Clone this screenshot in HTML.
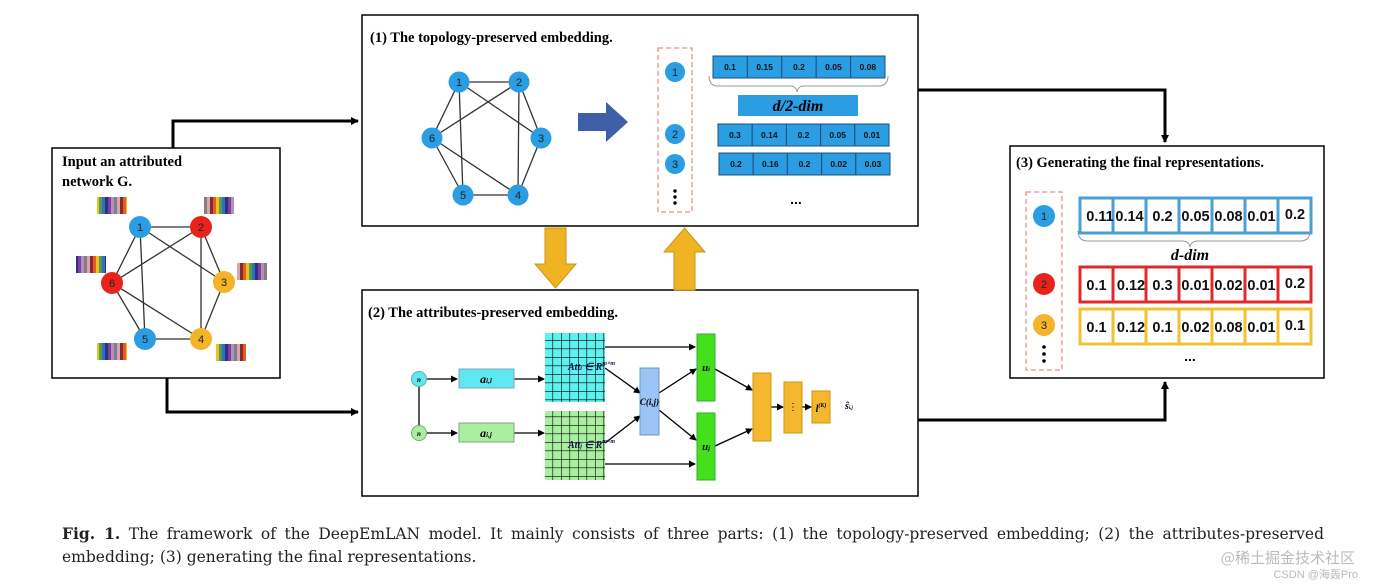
<!DOCTYPE html>
<html><head><meta charset="utf-8"><style>
body{margin:0;background:#fff;width:1374px;height:588px;overflow:hidden}
svg{display:block}
.t{font-family:"Liberation Serif",serif;font-weight:bold}
.s{font-family:"Liberation Sans",sans-serif}
.cap{position:absolute;left:62px;top:522px;width:1262px;font-family:"DejaVu Serif","Liberation Serif",serif;font-size:15.5px;line-height:23px;color:#222;text-align:justify;text-align-last:left}
</style></head><body>
<svg width="1374" height="588" viewBox="0 0 1374 588" xmlns="http://www.w3.org/2000/svg">
<defs>
<marker id="ab" markerWidth="8" markerHeight="8" refX="7" refY="4" orient="auto" markerUnits="userSpaceOnUse"><path d="M0,0 L8,4 L0,8z" fill="#000"/></marker>
<marker id="as" markerWidth="7" markerHeight="7" refX="6" refY="3.5" orient="auto" markerUnits="userSpaceOnUse"><path d="M0,0 L7,3.5 L0,7z" fill="#000"/></marker>
<pattern id="bars" width="30" height="17" patternUnits="userSpaceOnUse">
<rect x="0" width="3" height="17" fill="#7a3030"/><rect x="3" width="3" height="17" fill="#e85a20"/><rect x="6" width="3" height="17" fill="#f0c020"/><rect x="9" width="3" height="17" fill="#50a050"/><rect x="12" width="3" height="17" fill="#3070c0"/><rect x="15" width="3" height="17" fill="#303080"/><rect x="18" width="3" height="17" fill="#8040a0"/><rect x="21" width="3" height="17" fill="#b090c0"/><rect x="24" width="3" height="17" fill="#808080"/><rect x="27" width="3" height="17" fill="#e0a0b0"/>
</pattern>
<pattern id="g" width="8.5" height="8.5" patternUnits="userSpaceOnUse"><path d="M0,0 H8.5 M0,0 V8.5" stroke="#000" stroke-width="1.2" fill="none"/></pattern>
</defs>
<g stroke="#000" stroke-width="3" fill="none">
<path d="M173,148 V121 H358" marker-end="url(#ab)"/>
<path d="M167,378 V412 H358" marker-end="url(#ab)"/>
<path d="M918,90 H1165 V142" marker-end="url(#ab)"/>
<path d="M918,420 H1165 V382" marker-end="url(#ab)"/>
</g>
<g fill="none" stroke="#000" stroke-width="1.5">
<rect x="52" y="148" width="228" height="230"/>
<rect x="362" y="15" width="556" height="211"/>
<rect x="362" y="290" width="556" height="206"/>
<rect x="1010" y="146" width="314" height="232"/>
</g>
<path d="M545,228 H566 V264 H576 L555.5,288 L535,264 H545z" fill="#f0b323" stroke="#c99510"/>
<path d="M674,290 H695 V252 H705 L684.5,228 L664,252 H674z" fill="#f0b323" stroke="#c99510"/>
<text x="62" y="166" class="t" font-size="14.5">Input an attributed</text>
<text x="62" y="186" class="t" font-size="14.5">network G.</text>
<g stroke="#333" stroke-width="1.3">
<line x1="140" y1="227" x2="201" y2="227"/><line x1="140" y1="227" x2="112" y2="283"/><line x1="140" y1="227" x2="145" y2="339"/><line x1="140" y1="227" x2="224" y2="282"/>
<line x1="201" y1="227" x2="112" y2="283"/><line x1="201" y1="227" x2="201" y2="339"/><line x1="201" y1="227" x2="224" y2="282"/>
<line x1="224" y1="282" x2="201" y2="339"/><line x1="201" y1="339" x2="145" y2="339"/><line x1="145" y1="339" x2="112" y2="283"/><line x1="112" y1="283" x2="201" y2="339"/>
</g>
<g font-size="11" text-anchor="middle" class="s" fill="#222">
<circle cx="140" cy="227" r="11" fill="#2a9de3"/><text x="140" y="231">1</text>
<circle cx="201" cy="227" r="11" fill="#e8231c"/><text x="201" y="231">2</text>
<circle cx="224" cy="282" r="11" fill="#f5b32a"/><text x="224" y="286">3</text>
<circle cx="201" cy="339" r="11" fill="#f5b32a"/><text x="201" y="343">4</text>
<circle cx="145" cy="339" r="11" fill="#2a9de3"/><text x="145" y="343">5</text>
<circle cx="112" cy="283" r="11" fill="#e8231c"/><text x="112" y="287">6</text>
</g>
<rect x="97" y="197" width="30" height="17" fill="url(#bars)"/>
<rect x="204" y="197" width="30" height="17" fill="url(#bars)"/>
<rect x="76" y="256" width="30" height="17" fill="url(#bars)"/>
<rect x="237" y="263" width="30" height="17" fill="url(#bars)"/>
<rect x="97" y="343" width="30" height="17" fill="url(#bars)"/>
<rect x="216" y="344" width="30" height="17" fill="url(#bars)"/>
<text x="370" y="42" class="t" font-size="14.5">(1) The topology-preserved  embedding.</text>
<g stroke="#333" stroke-width="1.3">
<line x1="459" y1="82" x2="519" y2="82"/><line x1="459" y1="82" x2="432" y2="138"/><line x1="459" y1="82" x2="463" y2="195"/><line x1="459" y1="82" x2="541" y2="138"/>
<line x1="519" y1="82" x2="432" y2="138"/><line x1="519" y1="82" x2="518" y2="195"/><line x1="519" y1="82" x2="541" y2="138"/>
<line x1="541" y1="138" x2="518" y2="195"/><line x1="518" y1="195" x2="463" y2="195"/><line x1="463" y1="195" x2="432" y2="138"/><line x1="432" y1="138" x2="518" y2="195"/>
</g>
<g font-size="11" text-anchor="middle" class="s" fill="#222">
<circle cx="459" cy="82" r="10.5" fill="#2a9de3"/><text x="459" y="86">1</text>
<circle cx="519" cy="82" r="10.5" fill="#2a9de3"/><text x="519" y="86">2</text>
<circle cx="541" cy="138" r="10.5" fill="#2a9de3"/><text x="541" y="142">3</text>
<circle cx="518" cy="195" r="10.5" fill="#2a9de3"/><text x="518" y="199">4</text>
<circle cx="463" cy="195" r="10.5" fill="#2a9de3"/><text x="463" y="199">5</text>
<circle cx="432" cy="138" r="10.5" fill="#2a9de3"/><text x="432" y="142">6</text>
</g>
<path d="M578,113 H606 V102 L628,122 L606,142 V131 H578z" fill="#3f5ea8"/>
<rect x="658" y="48" width="34" height="164" fill="none" stroke="#e07060" stroke-dasharray="5,3"/>
<g font-size="11" text-anchor="middle" class="s" fill="#222">
<circle cx="675" cy="72" r="10" fill="#2a9de3"/><text x="675" y="76">1</text>
<circle cx="675" cy="134" r="10" fill="#2a9de3"/><text x="675" y="138">2</text>
<circle cx="675" cy="164" r="10" fill="#2a9de3"/><text x="675" y="168">3</text>
</g>
<g fill="#000"><circle cx="675" cy="191" r="1.7"/><circle cx="675" cy="197" r="1.7"/><circle cx="675" cy="203" r="1.7"/></g>
<g fill="#2a9de3" stroke="#1d4f7a" stroke-width="1">
<rect x="713" y="56" width="34.4" height="22"/><rect x="747.4" y="56" width="34.4" height="22"/><rect x="781.8" y="56" width="34.4" height="22"/><rect x="816.2" y="56" width="34.4" height="22"/><rect x="850.6" y="56" width="34.4" height="22"/>
<rect x="718" y="124" width="34.2" height="22"/><rect x="752.2" y="124" width="34.2" height="22"/><rect x="786.4" y="124" width="34.2" height="22"/><rect x="820.6" y="124" width="34.2" height="22"/><rect x="854.8" y="124" width="34.2" height="22"/>
<rect x="719" y="153" width="34.2" height="22"/><rect x="753.2" y="153" width="34.2" height="22"/><rect x="787.4" y="153" width="34.2" height="22"/><rect x="821.6" y="153" width="34.2" height="22"/><rect x="855.8" y="153" width="34.2" height="22"/>
</g>
<g font-size="8.5" text-anchor="middle" class="s" font-weight="bold" fill="#111">
<text x="730" y="70">0.1</text><text x="764.6" y="70">0.15</text><text x="799" y="70">0.2</text><text x="833.4" y="70">0.05</text><text x="867.8" y="70">0.08</text>
<text x="735" y="138">0.3</text><text x="769.3" y="138">0.14</text><text x="803.5" y="138">0.2</text><text x="837.7" y="138">0.05</text><text x="871.9" y="138">0.01</text>
<text x="736" y="167">0.2</text><text x="770.3" y="167">0.16</text><text x="804.5" y="167">0.2</text><text x="838.7" y="167">0.02</text><text x="872.9" y="167">0.03</text>
</g>
<path d="M709,76 Q709,86 718,86 H790 Q796,86 797,92 Q798,86 804,86 H878 Q888,86 888,76" fill="none" stroke="#999"/>
<rect x="738" y="95" width="120" height="21" fill="#2a9de3"/>
<text x="798" y="111" text-anchor="middle" class="t" font-style="italic" font-size="16">d/2-dim</text>
<text x="796" y="204" text-anchor="middle" class="s" font-weight="bold" font-size="14">...</text>
<text x="368" y="317" class="t" font-size="14.5">(2) The attributes-preserved embedding.</text>
<g stroke="#000" stroke-width="1.3" fill="none">
<line x1="419" y1="386" x2="419" y2="426"/>
<line x1="427" y1="379" x2="457" y2="379" marker-end="url(#as)"/>
<line x1="427" y1="433" x2="457" y2="433" marker-end="url(#as)"/>
<line x1="514" y1="379" x2="544" y2="379" marker-end="url(#as)"/>
<line x1="514" y1="433" x2="544" y2="433" marker-end="url(#as)"/>
<line x1="605" y1="347" x2="695" y2="347" marker-end="url(#as)"/>
<line x1="605" y1="464" x2="695" y2="464" marker-end="url(#as)"/>
<line x1="605" y1="368" x2="640" y2="393" marker-end="url(#as)"/>
<line x1="605" y1="443" x2="640" y2="416" marker-end="url(#as)"/>
<line x1="659" y1="393" x2="696" y2="369" marker-end="url(#as)"/>
<line x1="659" y1="410" x2="696" y2="440" marker-end="url(#as)"/>
<line x1="715" y1="369" x2="752" y2="390" marker-end="url(#as)"/>
<line x1="715" y1="446" x2="752" y2="429" marker-end="url(#as)"/>
<line x1="771" y1="407" x2="783" y2="407" marker-end="url(#as)"/>
<line x1="802" y1="407" x2="811" y2="407" marker-end="url(#as)"/>
</g>
<circle cx="419" cy="379" r="7.5" fill="#5fe8f0" stroke="#6aa"/>
<circle cx="419" cy="433" r="7.5" fill="#a8f0a0" stroke="#7a7"/>
<text x="419" y="382" font-size="7" text-anchor="middle" class="t" font-style="italic">n</text>
<text x="419" y="436" font-size="7" text-anchor="middle" class="t" font-style="italic">n</text>
<rect x="459" y="369" width="55" height="19" fill="#5fe8f0" stroke="#7ab"/>
<rect x="459" y="423" width="55" height="19" fill="#a8f0a0" stroke="#7a7"/>
<text x="486" y="383" font-size="12" text-anchor="middle" class="t" font-weight="normal" font-style="italic">a<tspan font-size="7">i,l</tspan></text>
<text x="486" y="437" font-size="12" text-anchor="middle" class="t" font-weight="normal" font-style="italic">a<tspan font-size="7">i,j</tspan></text>
<rect x="545" y="333" width="60" height="69" fill="#5ff0f0"/><rect x="545" y="333" width="60" height="69" fill="url(#g)"/>
<rect x="545" y="411" width="60" height="69" fill="#a8f0a0"/><rect x="545" y="411" width="60" height="69" fill="url(#g)"/>
<text x="568" y="370" font-size="10" class="t" font-weight="normal" font-style="italic" fill="#114">Att<tspan font-size="6">i</tspan> ∈ R<tspan font-size="6" dy="-5">m×m</tspan></text>
<text x="568" y="448" font-size="10" class="t" font-weight="normal" font-style="italic" fill="#114">Att<tspan font-size="6">j</tspan> ∈ R<tspan font-size="6" dy="-5">m×m</tspan></text>
<rect x="640" y="368" width="19" height="67" fill="#9cc4f4" stroke="#69c"/>
<text x="649.5" y="405" font-size="9" text-anchor="middle" class="t" font-weight="normal" font-style="italic">C(i,j)</text>
<rect x="697" y="334" width="18" height="67" fill="#44e01c" stroke="#3a3"/>
<rect x="697" y="413" width="18" height="67" fill="#44e01c" stroke="#3a3"/>
<text x="706" y="371" font-size="11" text-anchor="middle" class="t" font-weight="normal" font-style="italic">u<tspan font-size="6">i</tspan></text>
<text x="706" y="450" font-size="11" text-anchor="middle" class="t" font-weight="normal" font-style="italic">u<tspan font-size="6">j</tspan></text>
<rect x="753" y="373" width="18" height="68" fill="#f5b630" stroke="#c90"/>
<rect x="784" y="382" width="18" height="51" fill="#f5b630" stroke="#c90"/>
<rect x="812" y="391" width="18" height="32" fill="#f5b630" stroke="#c90"/>
<text x="793" y="410" font-size="10" text-anchor="middle">⋮</text>
<text x="821" y="412" font-size="10" text-anchor="middle" class="t" font-weight="normal" font-style="italic">l<tspan font-size="6" dy="-5">(K)</tspan></text>
<text x="845" y="409" font-size="10" class="t" font-weight="normal" font-style="italic">ŝ<tspan font-size="5">i,j</tspan></text>
<text x="1016" y="167" class="t" font-size="14.5">(3) Generating the final representations.</text>
<rect x="1026" y="192" width="36" height="178" fill="none" stroke="#e07060" stroke-dasharray="5,3"/>
<g font-size="11" text-anchor="middle" class="s" fill="#222">
<circle cx="1044" cy="216" r="11" fill="#2a9de3"/><text x="1044" y="220">1</text>
<circle cx="1044" cy="284" r="11" fill="#e8231c"/><text x="1044" y="288">2</text>
<circle cx="1044" cy="325" r="11" fill="#f5b32a"/><text x="1044" y="329">3</text>
</g>
<g fill="#000"><circle cx="1044" cy="347" r="1.8"/><circle cx="1044" cy="354" r="1.8"/><circle cx="1044" cy="361" r="1.8"/></g>
<g fill="#fff" stroke-width="3">
<g stroke="#4a9fd6">
<rect x="1080" y="198" width="33" height="35"/><rect x="1113" y="198" width="33" height="35"/><rect x="1146" y="198" width="33" height="35"/><rect x="1179" y="198" width="33" height="35"/><rect x="1212" y="198" width="33" height="35"/><rect x="1245" y="198" width="33" height="35"/><rect x="1278" y="198" width="33" height="35"/>
</g>
<g stroke="#e02a2a">
<rect x="1080" y="267" width="33" height="35"/><rect x="1113" y="267" width="33" height="35"/><rect x="1146" y="267" width="33" height="35"/><rect x="1179" y="267" width="33" height="35"/><rect x="1212" y="267" width="33" height="35"/><rect x="1245" y="267" width="33" height="35"/><rect x="1278" y="267" width="33" height="35"/>
</g>
<g stroke="#f5c030">
<rect x="1080" y="309" width="33" height="35"/><rect x="1113" y="309" width="33" height="35"/><rect x="1146" y="309" width="33" height="35"/><rect x="1179" y="309" width="33" height="35"/><rect x="1212" y="309" width="33" height="35"/><rect x="1245" y="309" width="33" height="35"/><rect x="1278" y="309" width="33" height="35"/>
</g>
</g>
<g font-size="14.5" text-anchor="middle" class="s" font-weight="bold" fill="#111">
<text x="1100" y="221">0.11</text><text x="1129.5" y="221">0.14</text><text x="1162.5" y="221">0.2</text><text x="1195.5" y="221">0.05</text><text x="1228.5" y="221">0.08</text><text x="1261.5" y="221">0.01</text><text x="1295" y="219">0.2</text>
<text x="1096.5" y="290">0.1</text><text x="1131" y="290">0.12</text><text x="1162.5" y="290">0.3</text><text x="1195.5" y="290">0.01</text><text x="1228.5" y="290">0.02</text><text x="1261.5" y="290">0.01</text><text x="1295" y="288">0.2</text>
<text x="1096.5" y="332">0.1</text><text x="1131" y="332">0.12</text><text x="1162.5" y="332">0.1</text><text x="1195.5" y="332">0.02</text><text x="1228.5" y="332">0.08</text><text x="1261.5" y="332">0.01</text><text x="1295" y="330">0.1</text>
</g>
<path d="M1078,231 Q1078,241 1088,241 H1182 Q1189,241 1190,247 Q1191,241 1198,241 H1300 Q1310,241 1310,231" fill="none" stroke="#999"/>
<text x="1190" y="260" text-anchor="middle" class="t" font-style="italic" font-size="16">d-dim</text>
<text x="1190" y="361" text-anchor="middle" class="s" font-weight="bold" font-size="14">...</text>
<text x="1355" y="563" text-anchor="end" font-size="15" fill="#bbb" font-family="Noto Sans CJK SC,sans-serif">@稀土掘金技术社区</text>
<text x="1358" y="578" text-anchor="end" font-size="11" fill="#bbb" font-family="Liberation Sans,Noto Sans CJK SC,sans-serif">CSDN @海轰Pro</text>
</svg>
<div class="cap"><b>Fig. 1.</b> The framework of the DeepEmLAN model. It mainly consists of three parts: (1) the topology-preserved embedding; (2) the attributes-preserved embedding; (3) generating the final representations.</div>
</body></html>
